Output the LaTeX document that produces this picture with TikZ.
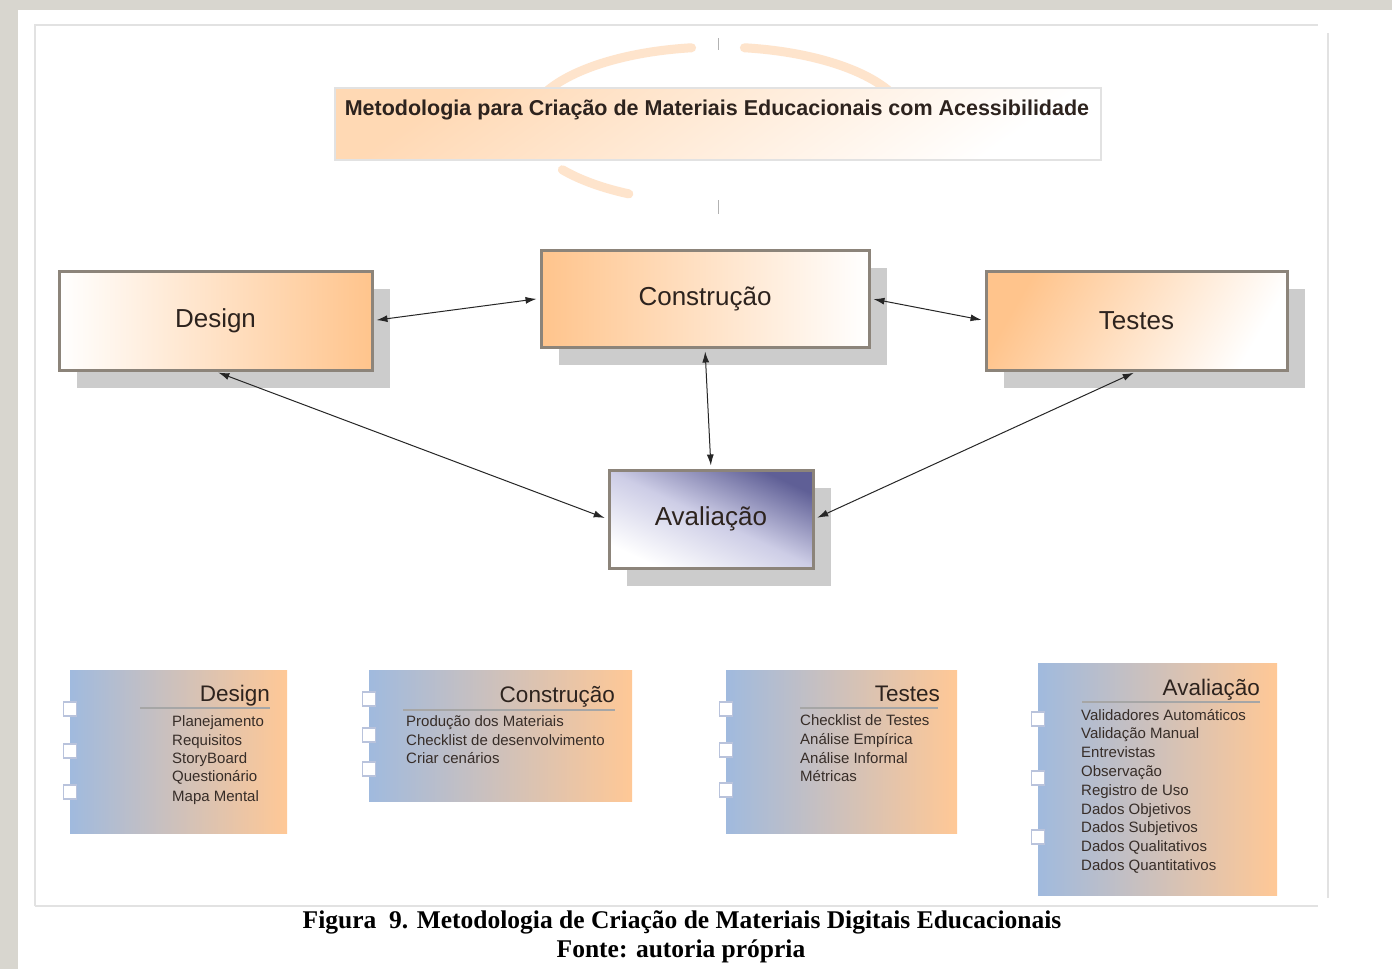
\documentclass[tikz,border=0pt]{standalone}
\usepackage{fontspec}
\setmainfont{Liberation Sans}
\newfontfamily\capfont{Liberation Serif}
\usetikzlibrary{arrows.meta,shadows}
\definecolor{bgtex}{RGB}{216,214,207}
\definecolor{org}{RGB}{255,196,140}
\definecolor{cardblue}{RGB}{160,186,222}
\definecolor{cardorg}{RGB}{255,200,150}
\definecolor{boxborder}{RGB}{140,132,122}
\definecolor{shad}{RGB}{204,204,204}
\definecolor{framec}{RGB}{226,226,226}
\definecolor{avdark}{RGB}{95,95,150}
\definecolor{avmid}{RGB}{205,205,230}
\definecolor{txt}{RGB}{45,35,30}
\definecolor{itemc}{RGB}{55,45,40}
\definecolor{arcorg}{RGB}{254,228,204}
\definecolor{tabc}{RGB}{185,195,220}
\tikzset{
  mainbox/.style={draw=boxborder, line width=3pt, inner sep=0pt, text=txt,
    font=\fontsize{26}{30}\selectfont,
    drop shadow={shadow xshift=18pt, shadow yshift=-18pt, fill=shad, opacity=1}},
  conn/.style={{Latex[length=11pt,width=7pt]}-{Latex[length=11pt,width=7pt]},
    line width=1pt, black!85, shorten <=3pt, shorten >=3pt},
  card/.style={left color=cardblue, right color=cardorg, inner sep=0pt, draw=none},
  tabbox/.style={fill=white, draw=tabc, line width=1.2pt, minimum width=13pt,
    minimum height=14pt, inner sep=0pt},
  ctitle/.style={anchor=base east, inner sep=0pt, text=txt,
    font=\fontsize{22.5}{26}\selectfont},
  item/.style={anchor=base west, inner sep=0pt, text=itemc,
    font=\fontsize{15}{17}\selectfont},
  tline/.style={draw=gray!70, line width=1.2pt},
  framel/.style={draw=framec, line width=2.5pt},
  tick/.style={draw=gray!60, line width=1pt},
  arcl/.style={draw=arcorg, line width=9pt, line cap=round}
}
\begin{document}
\begin{tikzpicture}[x=1pt,y=-1pt]
\useasboundingbox (0,0) rectangle (1392,969);
% page background
\fill[bgtex] (0,0) rectangle (1392,969);
\fill[white] (18,10) rectangle (1392,969);
% frame
\draw[framel] (35,906) -- (35,25) -- (1318,25);
\draw[framel] (35,906) -- (1318,906);
\draw[framel] (1328,33) -- (1328,898);
% decorative arc behind title
\draw[arcl] (718,125) ++(205:190 and 78) arc[start angle=205, end angle=262, x radius=190, y radius=78];
\draw[arcl] (718,125) ++(278:190 and 78) arc[start angle=278, end angle=335, x radius=190, y radius=78];
\draw[arcl] (718,125) ++(118:190 and 78) arc[start angle=118, end angle=145, x radius=190, y radius=78];
\draw[tick] (718,38) -- (718,50);
\draw[tick] (718,200) -- (718,214);
% title box
\node[draw=framec, line width=2pt, minimum width=766pt, minimum height=72pt,
  top color=org!65, bottom color=white, shading angle=35, inner sep=0pt]
  (titlebox) at (718,124) {};
\node[inner sep=0pt, text=txt, font=\bfseries\fontsize{21.5}{25}\selectfont]
  (titletext) at (717,110) {Metodologia para Criação de Materiais Educacionais com Acessibilidade};
% main boxes
\node[mainbox, minimum width=313pt, minimum height=99pt, left color=white, right color=org]
  (design) at (215.5,320.5) {Design};
\node[mainbox, minimum width=328pt, minimum height=97pt, left color=org, right color=white]
  (constr) at (705,298.5) {Construção};
\node[mainbox, minimum width=301pt, minimum height=99pt, top color=org, bottom color=white, shading angle=60]
  (testes) at (1136.5,320.5) {Testes};
\node[mainbox, minimum width=204pt, minimum height=98pt, top color=avdark, bottom color=white,
  middle color=avmid, shading angle=-25]
  (aval) at (711,519) {Avaliação};
% connectors
\draw[conn] (design.east) -- (constr.west);
\draw[conn] (constr.east) -- (testes.west);
\draw[conn] (constr.south) -- (aval.north);
\draw[conn] (design.south) -- (aval.west);
\draw[conn] (testes.south) -- (aval.east);
% card 1: Design
\node[card, minimum width=217pt, minimum height=163pt] (c1) at (178.5,751.5) {};
\node[tabbox] (c1t1) at (70,709) {};
\node[tabbox] (c1t2) at (70,751) {};
\node[tabbox] (c1t3) at (70,792) {};
\node[ctitle] (c1h) at (270,701) {Design};
\draw[tline] (140,708) -- (270,708);
\node[item] (c1a) at (172,726) {Planejamento};
\node[item] (c1b) at (172,745) {Requisitos};
\node[item] (c1c) at (172,763) {StoryBoard};
\node[item] (c1d) at (172,781) {Questionário};
\node[item] (c1e) at (172,801) {Mapa Mental};
% card 2: Construção
\node[card, minimum width=263pt, minimum height=131pt] (c2) at (500.5,735.5) {};
\node[tabbox] (c2t1) at (369,699) {};
\node[tabbox] (c2t2) at (369,735) {};
\node[tabbox] (c2t3) at (369,769) {};
\node[ctitle] (c2h) at (615,702) {Construção};
\draw[tline] (403,710) -- (615,710);
\node[item] (c2a) at (406,726) {Produção dos Materiais};
\node[item] (c2b) at (406,745) {Checklist de desenvolvimento};
\node[item] (c2c) at (406,763) {Criar cenários};
% card 3: Testes
\node[card, minimum width=231pt, minimum height=163pt] (c3) at (841.5,751.5) {};
\node[tabbox] (c3t1) at (726,709) {};
\node[tabbox] (c3t2) at (726,750) {};
\node[tabbox] (c3t3) at (726,790) {};
\node[ctitle] (c3h) at (940,701) {Testes};
\draw[tline] (800,708) -- (938,708);
\node[item] (c3a) at (800,725) {Checklist de Testes};
\node[item] (c3b) at (800,744) {Análise Empírica};
\node[item] (c3c) at (800,763) {Análise Informal};
\node[item] (c3d) at (800,781) {Métricas};
% card 4: Avaliação
\node[card, minimum width=239pt, minimum height=232pt] (c4) at (1157.5,779) {};
\node[tabbox] (c4t1) at (1038,719) {};
\node[tabbox] (c4t2) at (1038,778) {};
\node[tabbox] (c4t3) at (1038,837) {};
\node[ctitle] (c4h) at (1260,695) {Avaliação};
\draw[tline] (1082,702) -- (1260,702);
\node[item] (c4a) at (1081,720) {Validadores Automáticos};
\node[item] (c4b) at (1081,738.5) {Validação Manual};
\node[item] (c4c) at (1081,757) {Entrevistas};
\node[item] (c4d) at (1081,776) {Observação};
\node[item] (c4e) at (1081,795) {Registro de Uso};
\node[item] (c4f) at (1081,814) {Dados Objetivos};
\node[item] (c4g) at (1081,832) {Dados Subjetivos};
\node[item] (c4h2) at (1081,851) {Dados Qualitativos};
\node[item] (c4i) at (1081,870) {Dados Quantitativos};
% caption
\node[inner sep=0pt, font=\capfont\bfseries\fontsize{25.5}{29}\selectfont] (cap1) at (682,922)
  {Figura\ \ 9. Metodologia de Criação de Materiais Digitais Educacionais};
\node[inner sep=0pt, font=\capfont\bfseries\fontsize{25.5}{29}\selectfont] (cap2) at (681,951)
  {Fonte: autoria própria};
\end{tikzpicture}
\end{document}
